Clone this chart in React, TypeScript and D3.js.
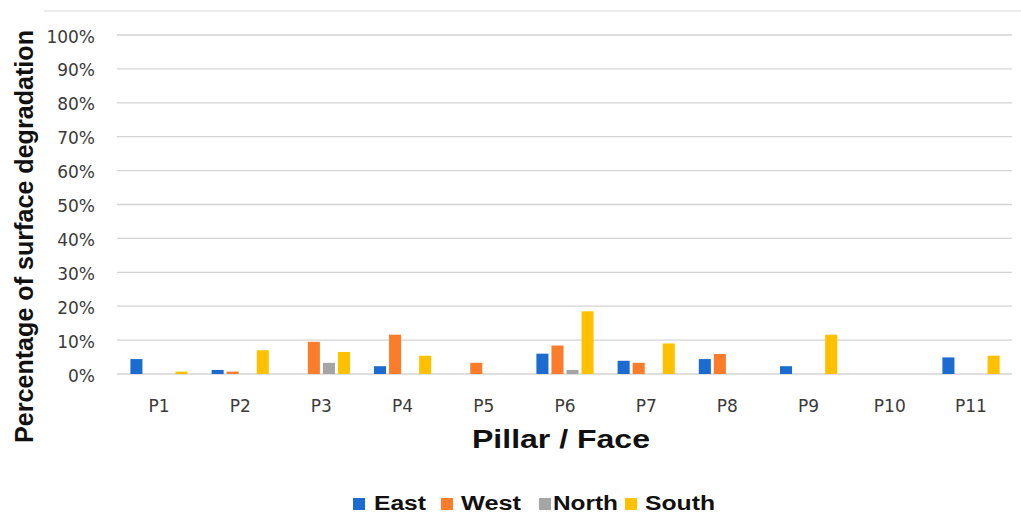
import React from "react";
import * as d3 from "d3";

const categories = ["P1", "P2", "P3", "P4", "P5", "P6", "P7", "P8", "P9", "P10", "P11"];
const seriesNames = ["East", "West", "North", "South"];
const east = [0.044, 0.012, 0, 0.023, 0, 0.06, 0.039, 0.044, 0.023, 0, 0.049];
const west = [0, 0.007, 0.095, 0.116, 0.033, 0.084, 0.033, 0.059, 0, 0, 0];
const north = [0, 0, 0.033, 0, 0, 0.012, 0, 0, 0, 0, 0];
const south = [0.007, 0.07, 0.065, 0.054, 0, 0.185, 0.09, 0, 0.116, 0, 0.054];
const yTicks = [0, 0.1, 0.2, 0.3, 0.4, 0.5, 0.6, 0.7, 0.8, 0.9, 1.0];
const colors = ["#1b6bd0", "#fb7d2b", "#a5a5a5", "#ffc000"];
const legendTextWidths = [52, 60, 65, 70];
const legendSquareX = [353, 441, 539, 625];
const legendTextX = [374, 461, 553, 645];

export default function App() {
  const W = 1021, H = 527;
  const x0 = d3.scaleBand<string>().domain(categories).range([118.4, 1011.6]).paddingInner(0).paddingOuter(0);
  const bw = x0.bandwidth();
  const x1 = d3.scaleBand<string>().domain(seriesNames).range([12, bw - 12]).paddingInner(0.2).paddingOuter(0);
  const y = d3.scaleLinear().domain([0, 1]).range([374, 35]);
  const data = [east, west, north, south];
  const fmt = d3.format(".0%");

  return (
    <svg width={W} height={H} style={{ position: "absolute", left: 0, top: 0, background: "#fff" }}>
      <line x1={44} x2={W} y1={11} y2={11} stroke="#d9d9d9" strokeWidth={1.2} />
      {yTicks.map((t) => (
        <g key={t}>
          <line x1={117} x2={1012} y1={y(t)} y2={y(t)} stroke="#d4d4d4" strokeWidth={1.3} />
          <text x={95} y={y(t) + 1.5} textAnchor="end" dominantBaseline="central"
            fontFamily="DejaVu Sans" fontSize={17} fill="#3a3a3a">{fmt(t)}</text>
        </g>
      ))}
      {data.map((vals, si) =>
        vals.map((v, ci) =>
          v > 0 ? (
            <rect key={`${si}-${ci}`} x={(x0(categories[ci]) as number) + (x1(seriesNames[si]) as number)}
              y={y(v)} width={x1.bandwidth()} height={y(0) - y(v)} fill={colors[si]} />
          ) : null
        )
      )}
      {categories.map((c) => (
        <text key={c} x={(x0(c) as number) + bw / 2} y={412} textAnchor="middle"
          fontFamily="DejaVu Sans" fontSize={17} fill="#3a3a3a">{c}</text>
      ))}
      <text x={472} y={448} fontFamily="Liberation Sans, Arial" fontWeight="bold" fontSize={26}
        textLength={178} lengthAdjust="spacingAndGlyphs" fill="#111">Pillar / Face</text>
      <text transform="translate(33,443) rotate(-90)" x={0} y={0} fontFamily="Liberation Sans, Arial"
        fontWeight="bold" fontSize={25} textLength={413} lengthAdjust="spacingAndGlyphs" fill="#111">
        Percentage of surface degradation
      </text>
      {seriesNames.map((s, i) => (
        <g key={s}>
          <rect x={legendSquareX[i]} y={498} width={12} height={12} fill={colors[i]} />
          <text x={legendTextX[i]} y={510} fontFamily="Liberation Sans, Arial" fontWeight="bold"
            fontSize={20} textLength={legendTextWidths[i]} lengthAdjust="spacingAndGlyphs" fill="#111">{s}</text>
        </g>
      ))}
    </svg>
  );
}
